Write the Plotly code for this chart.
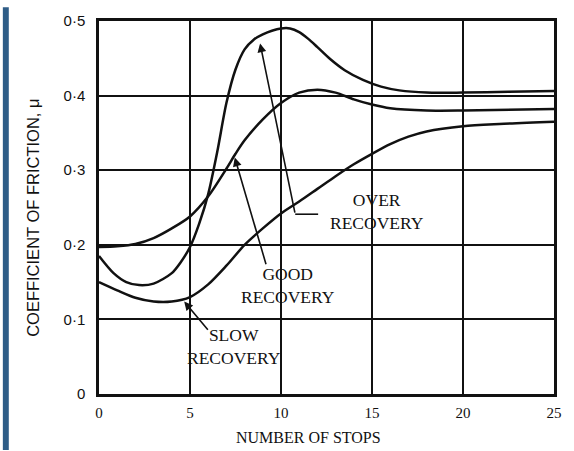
import plotly.graph_objects as go

# Friction recovery curves: coefficient of friction vs number of stops
over_x = [0, 0.8, 1.5, 2.2, 3, 4, 4.5, 5, 5.5, 6, 6.5, 7, 7.5, 8, 8.5, 9, 9.5, 10, 10.5, 11, 11.5, 12, 12.7, 13.5, 14.5, 15.5, 16.5, 18, 20, 22.5, 25]
over_y = [0.185, 0.162, 0.150, 0.146, 0.148, 0.162, 0.177, 0.197, 0.228, 0.268, 0.325, 0.39, 0.435, 0.462, 0.475, 0.482, 0.487, 0.490, 0.490, 0.485, 0.476, 0.465, 0.449, 0.434, 0.421, 0.412, 0.407, 0.404, 0.404, 0.405, 0.406]

good_x = [0, 1, 2, 3, 4, 5, 6, 7, 7.5, 8, 9, 10, 11, 12, 13, 14, 15, 16, 18, 20, 25]
good_y = [0.197, 0.198, 0.201, 0.209, 0.222, 0.238, 0.265, 0.302, 0.322, 0.340, 0.368, 0.390, 0.404, 0.408, 0.404, 0.395, 0.388, 0.383, 0.380, 0.380, 0.382]

slow_x = [0, 1, 2, 3, 4, 5, 6, 7, 8, 9, 10, 11, 12, 13, 14, 15, 16, 17, 18, 20, 22, 25]
slow_y = [0.150, 0.139, 0.129, 0.124, 0.124, 0.130, 0.147, 0.172, 0.200, 0.222, 0.242, 0.258, 0.275, 0.292, 0.308, 0.322, 0.335, 0.345, 0.352, 0.359, 0.362, 0.365]

x_ticks = [0, 5, 10, 15, 20, 25]
x_tick_text = ["0", "5", "10", "15", "20", "25"]
y_ticks = [0, 0.1, 0.2, 0.3, 0.4, 0.5]
y_tick_text = ["0", "0·1", "0·2", "0·3", "0·4", "0·5"]

# label text, label centre, pointer tip, pointer tail
labels = [
    ("OVER<br>RECOVERY", (15.3, 0.245), (8.85, 0.47), (10.78, 0.241)),
    ("GOOD<br>RECOVERY", (10.4, 0.146), (7.46, 0.317), (9.2, 0.172)),
    ("SLOW<br>RECOVERY", (7.4, 0.064), (4.68, 0.124), (6.05, 0.084)),
]
over_stub_end = 12.04

ink = "#111111"
serif = "Liberation Serif, Times New Roman, serif"
sans = "Liberation Sans, Arial, sans-serif"

fig = go.Figure()
for xs, ys in [(over_x, over_y), (good_x, good_y), (slow_x, slow_y)]:
    fig.add_trace(go.Scatter(x=xs, y=ys, mode="lines",
                             line=dict(color=ink, width=2.5, shape="spline", smoothing=0.8),
                             showlegend=False, hoverinfo="skip"))

annotations = []
for text, (lx, ly), (tx, ty), (ax, ay) in labels:
    annotations.append(dict(x=lx, y=ly, xref="x", yref="y", text=text, showarrow=False,
                            xanchor="center", yanchor="middle",
                            font=dict(family=serif, size=17.5, color=ink), align="center"))
    annotations.append(dict(x=tx, y=ty, ax=ax, ay=ay, xref="x", yref="y", axref="x", ayref="y",
                            text="", showarrow=True, arrowhead=2, arrowsize=1.1,
                            arrowwidth=1.6, arrowcolor=ink))

# horizontal stub joining the OVER RECOVERY pointer to its label
fig.add_shape(type="line", xref="x", yref="y",
              x0=labels[0][3][0], y0=labels[0][3][1], x1=over_stub_end, y1=labels[0][3][1],
              line=dict(color=ink, width=1.6))

annotations.append(dict(x=(310 - 99) / 459, y=-(438 - 394) / 380, xref="paper", yref="paper",
                        xanchor="center", yanchor="middle",
                        text="NUMBER OF STOPS", showarrow=False,
                        font=dict(family=serif, size=16, color=ink)))
annotations.append(dict(x=-(99 - 33) / 459, y=(394 - 215) / 380, xref="paper", yref="paper",
                        xanchor="center", yanchor="middle",
                        text="COEFFICIENT OF FRICTION, μ", textangle=-90, showarrow=False,
                        font=dict(family=sans, size=16.5, color=ink)))

# blue edge strip along the left side of the page
fig.add_shape(type="rect", xref="paper", yref="paper",
              x0=-(99 - 2) / 459, x1=-(99 - 8) / 459, y0=-(451 - 394) / 380, y1=1 + 14 / 380,
              fillcolor="#2f5d87", line=dict(width=0), layer="above")

fig.update_layout(
    width=574, height=451,
    margin=dict(l=99, r=16, t=14, b=57),
    paper_bgcolor="white", plot_bgcolor="white",
    annotations=annotations,
    xaxis=dict(range=[0, 25], tickvals=x_ticks, ticktext=x_tick_text,
               showgrid=True, gridcolor=ink, gridwidth=1.6, zeroline=False,
               showline=True, linecolor=ink, linewidth=2.5, mirror=True,
               ticks="", ticklabelstandoff=3,
               tickfont=dict(family=serif, size=15, color=ink)),
    yaxis=dict(range=[0, 0.5], tickvals=y_ticks, ticktext=y_tick_text,
               showgrid=True, gridcolor=ink, gridwidth=1.6, zeroline=False,
               showline=True, linecolor=ink, linewidth=2.5, mirror=True,
               ticks="", ticklabelstandoff=8,
               tickfont=dict(family=sans, size=15, color=ink)),
)

fig.write_html("out.html")
